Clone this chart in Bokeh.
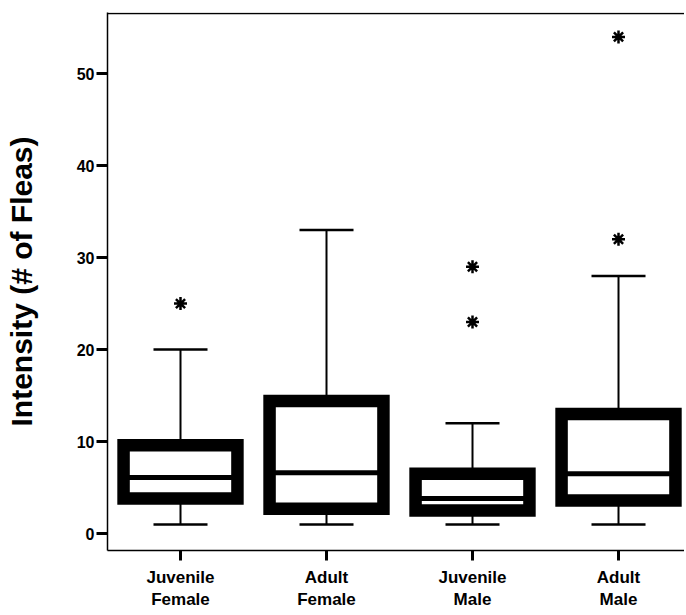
from bokeh.plotting import figure
from bokeh.models import FixedTicker, Range1d, Span, ColumnDataSource
from bokeh.embed import file_html
from bokeh.resources import INLINE

# ---- data ----
categories = ["Juvenile\nFemale", "Adult\nFemale", "Juvenile\nMale", "Adult\nMale"]
positions = [1, 2, 3, 4]
q1 = [3.8, 2.7, 2.5, 3.6]
q3 = [9.6, 14.4, 6.5, 13.0]
medians = [6.1, 6.6, 3.8, 6.5]
whisker_low = [1, 1, 1, 1]
whisker_high = [20, 33, 12, 28]
outlier_group = [1, 3, 3, 4, 4]
outlier_value = [25, 29, 23, 54, 32]
y_ticks = [0, 10, 20, 30, 40, 50]
y_title = "Intensity (# of Fleas)"

FONT = "Liberation Sans"
half = 0.39
cap = 0.185

p = figure(width=684, height=612, output_backend="svg", toolbar_location=None,
           x_range=Range1d(0.5, 4.452), y_range=Range1d(-1.84, 56.65),
           min_border_left=107, min_border_right=0, min_border_top=12, min_border_bottom=59)
p.background_fill_color = "white"
p.border_fill_color = "white"
p.outline_line_color = None
p.xgrid.visible = False
p.ygrid.visible = False

src = ColumnDataSource(dict(
    x=positions,
    left=[v - half for v in positions], right=[v + half for v in positions],
    capl=[v - cap for v in positions], capr=[v + cap for v in positions],
    q1=q1, q3=q3, med=medians, lo=whisker_low, hi=whisker_high))

# whiskers
p.segment(x0="x", y0="q3", x1="x", y1="hi", source=src, line_color="black", line_width=2)
p.segment(x0="x", y0="lo", x1="x", y1="q1", source=src, line_color="black", line_width=2)
p.segment(x0="capl", y0="hi", x1="capr", y1="hi", source=src, line_color="black", line_width=2.5)
p.segment(x0="capl", y0="lo", x1="capr", y1="lo", source=src, line_color="black", line_width=2.5)
# boxes
p.quad(left="left", right="right", bottom="q1", top="q3", source=src,
       fill_color="white", line_color="black", line_width=12.5, line_join="miter")
# medians
p.segment(x0="left", y0="med", x1="right", y1="med", source=src, line_color="black", line_width=5)
# outliers
p.scatter(x=outlier_group, y=outlier_value, marker="asterisk", size=13,
          line_color="black", line_width=2.5)

# top frame line
p.add_layout(Span(location=56.65 - 0.1, dimension="width", line_color="black", line_width=1.5))

# axes
p.xaxis.ticker = FixedTicker(ticks=positions)
p.xaxis.major_label_overrides = {pos: lab for pos, lab in zip(positions, categories)}
p.xaxis.major_label_text_font = FONT
p.xaxis.major_label_text_font_style = "bold"
p.xaxis.major_label_text_font_size = "17px"
p.xaxis.major_label_text_color = "black"
p.xaxis.major_label_standoff = 7
p.xaxis.major_tick_in = 0
p.xaxis.major_tick_out = 10
p.xaxis.major_tick_line_width = 3
p.xaxis.minor_tick_line_color = None
p.xaxis.axis_line_width = 1.5
p.xaxis.axis_line_color = "black"

p.yaxis.ticker = FixedTicker(ticks=y_ticks)
p.yaxis.major_label_text_font = FONT
p.yaxis.major_label_text_font_style = "bold"
p.yaxis.major_label_text_font_size = "16px"
p.yaxis.major_label_text_color = "black"
p.yaxis.major_label_standoff = 2
p.yaxis.major_tick_in = 0
p.yaxis.major_tick_out = 11
p.yaxis.major_tick_line_width = 3
p.yaxis.minor_tick_line_color = None
p.yaxis.axis_line_width = 1.5
p.yaxis.axis_line_color = "black"
p.yaxis.axis_label = y_title
p.yaxis.axis_label_text_font = FONT
p.yaxis.axis_label_text_font_style = "bold"
p.yaxis.axis_label_text_font_size = "30px"
p.yaxis.axis_label_text_color = "black"
p.yaxis.axis_label_standoff = 36

open("out.html", "w").write(file_html(p, INLINE))
